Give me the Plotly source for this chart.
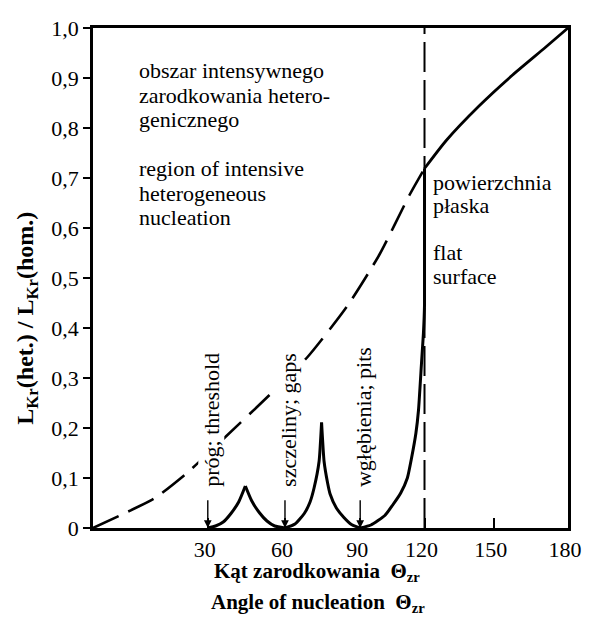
import numpy as np
import plotly.graph_objects as go

# axis of the source figure is not linear: drawn position (px from origin) of each labelled angle
SCALE_ANGLE = [0, 30, 60, 90, 120, 150, 180]
SCALE_POS = [0, 116, 194, 270, 335, 405, 480]

TICK_ANGLES = [30, 60, 90, 120, 150, 180]
TICK_TEXT = ["30", "60", "90", "120", "150", "180"]
Y_TICKS = [0, 0.1, 0.2, 0.3, 0.4, 0.5, 0.6, 0.7, 0.8, 0.9, 1.0]
Y_TICK_TEXT = ["0", "0,1", "0,2", "0,3", "0,4", "0,5", "0,6", "0,7", "0,8", "0,9", "1,0"]

# flat-surface curve: dashed below 120 deg, solid above
flat_dash_angle = [0, 7, 16, 25, 36, 54, 69, 85, 99, 113, 120]
flat_dash_value = [0, 0.025, 0.059, 0.113, 0.178, 0.266, 0.342, 0.445, 0.547, 0.666, 0.719]
flat_solid_angle = [120, 129.4, 143.6, 157.6, 170.8, 180]
flat_solid_value = [0.719, 0.775, 0.844, 0.906, 0.961, 1.0]

# cusped curve: threshold, gaps, pits
threshold_up_angle = [30, 33, 36, 39, 42, 44.6]
threshold_up_value = [0, 0.004, 0.012, 0.029, 0.052, 0.084]
threshold_down_angle = [44.6, 47, 50, 53, 56, 60]
threshold_down_value = [0.084, 0.055, 0.031, 0.014, 0.004, 0]
gaps_up_angle = [60, 64, 67.7, 70, 71.6, 73.6, 74.6]
gaps_up_value = [0, 0.008, 0.029, 0.052, 0.080, 0.133, 0.211]
gaps_down_angle = [74.6, 75.6, 77, 78, 80.5, 83.5, 86.5, 90]
gaps_down_value = [0.211, 0.133, 0.09, 0.068, 0.04, 0.021, 0.007, 0]
pits_angle = [90, 95, 101.5, 105, 108.9, 112, 114, 116, 117.2, 118.6, 119.5, 120, 120]
pits_value = [0, 0.006, 0.025, 0.045, 0.070, 0.10, 0.141, 0.19, 0.236, 0.330, 0.39, 0.445, 0.719]

ARROW_ANGLES = [30, 60, 90]
ARROW_LABELS = ["próg; threshold", "szczeliny; gaps", "wgłębienia; pits"]

REGION_LINES = ["obszar intensywnego", "zarodkowania hetero-", "genicznego", "",
                "region of intensive", "heterogeneous", "nucleation"]
FLAT_LINES = ["powierzchnia", "płaska", "", "flat", "surface"]

FONT = "Liberation Serif, Times New Roman, serif"
# the page body adds an 8px offset, so the figure is drawn 8px smaller
W, H = 582, 613
L, R, T, B = 85, 17, 8, 93
PLOT_H = H - T - B
AXIS_ROW = 528  # row of the x axis in the reference picture


def pos(a):
    return np.interp(np.asarray(a, dtype=float), SCALE_ANGLE, SCALE_POS)


def yval(py):
    # reference pixel row -> data value
    return (AXIS_ROW - py) / PLOT_H


fig = go.Figure()

fig.add_trace(go.Scatter(x=pos(flat_dash_angle), y=flat_dash_value, mode="lines",
                         line=dict(color="black", width=2.6, dash="28px,11px", shape="spline", smoothing=0.6),
                         showlegend=False, hoverinfo="skip"))
fig.add_trace(go.Scatter(x=pos(flat_solid_angle), y=flat_solid_value, mode="lines",
                         line=dict(color="black", width=2.8, shape="spline", smoothing=0.6),
                         showlegend=False, hoverinfo="skip"))
fig.add_trace(go.Scatter(x=pos([120, 120]), y=[0, 1], mode="lines",
                         line=dict(color="black", width=2, dash="30px,8px"),
                         showlegend=False, hoverinfo="skip"))

arcs = [
    (threshold_up_angle, threshold_up_value),
    (threshold_down_angle, threshold_down_value),
    (gaps_up_angle, gaps_up_value),
    (gaps_down_angle, gaps_down_value),
    (pits_angle, pits_value),
]
for ang, val in arcs:
    fig.add_trace(go.Scatter(x=pos(ang), y=val, mode="lines",
                             line=dict(color="black", width=3, shape="spline", smoothing=0.5),
                             showlegend=False, hoverinfo="skip"))

ann = []
for a, label in zip(ARROW_ANGLES, ARROW_LABELS):
    xa = float(pos(a))
    ann.append(dict(x=xa, y=0, ax=xa, ay=yval(498), xref="x", yref="y", axref="x", ayref="y",
                    text="", showarrow=True, arrowhead=2, arrowsize=1.1, arrowwidth=1.4,
                    arrowcolor="black", standoff=0))
    ann.append(dict(x=xa + 4, y=yval(487), xref="x", yref="y", text=label, textangle=-90,
                    showarrow=False, xanchor="center", yanchor="bottom", bgcolor="white", borderpad=0,
                    font=dict(family=FONT, size=22, color="black")))

for i, line in enumerate(REGION_LINES):
    if line:
        ann.append(dict(x=44, y=yval(60 + 25 * i), xref="x", yref="y", text=line, showarrow=False,
                        xanchor="left", yanchor="middle", font=dict(family=FONT, size=22, color="black")))
for i, line in enumerate(FLAT_LINES):
    if line:
        ann.append(dict(x=342, y=yval(174 + 24 * i), xref="x", yref="y", text=line, showarrow=False,
                        xanchor="left", yanchor="middle", font=dict(family=FONT, size=22, color="black")))

ann.append(dict(x=(26 - 93) / 480, y=0.42, xref="paper", yref="paper", textangle=-90, showarrow=False,
                text="L<sub>Kr</sub>(het.) / L<sub>Kr</sub>(hom.)", xanchor="center", yanchor="middle",
                font=dict(family=FONT, size=24, color="black", weight="bold")))
ann.append(dict(x=0.471, y=yval(573), xref="paper", yref="paper", showarrow=False,
                text="Kąt zarodkowania\u00a0\u00a0Θ<sub>zr</sub>", xanchor="center", yanchor="middle",
                font=dict(family=FONT, size=21, color="black", weight="bold")))
ann.append(dict(x=0.473, y=yval(605), xref="paper", yref="paper", showarrow=False,
                text="Angle of nucleation\u00a0\u00a0Θ<sub>zr</sub>", xanchor="center", yanchor="middle",
                font=dict(family=FONT, size=21, color="black", weight="bold")))

fig.update_layout(
    width=W, height=H,
    margin=dict(l=L, r=R, t=T, b=B),
    paper_bgcolor="white", plot_bgcolor="white",
    annotations=ann,
    xaxis=dict(range=[0, 480], tickvals=pos(TICK_ANGLES), ticktext=TICK_TEXT,
               ticks="inside", ticklen=10, tickwidth=1.5, tickcolor="black",
               showline=True, linewidth=2.5, linecolor="black", mirror=True,
               showgrid=False, zeroline=False, ticklabelstandoff=0, ticklabelshift=-3,
               ticklabeloverflow="allow",
               tickfont=dict(family=FONT, size=22, color="black")),
    yaxis=dict(range=[0, 1], tickvals=Y_TICKS, ticktext=Y_TICK_TEXT,
               ticks="outside", ticklen=7, tickwidth=1.5, tickcolor="black",
               showline=True, linewidth=2.5, linecolor="black", mirror=True,
               showgrid=False, zeroline=False, ticklabeloverflow="allow",
               tickfont=dict(family=FONT, size=22, color="black")),
)

fig.write_html("out.html")
